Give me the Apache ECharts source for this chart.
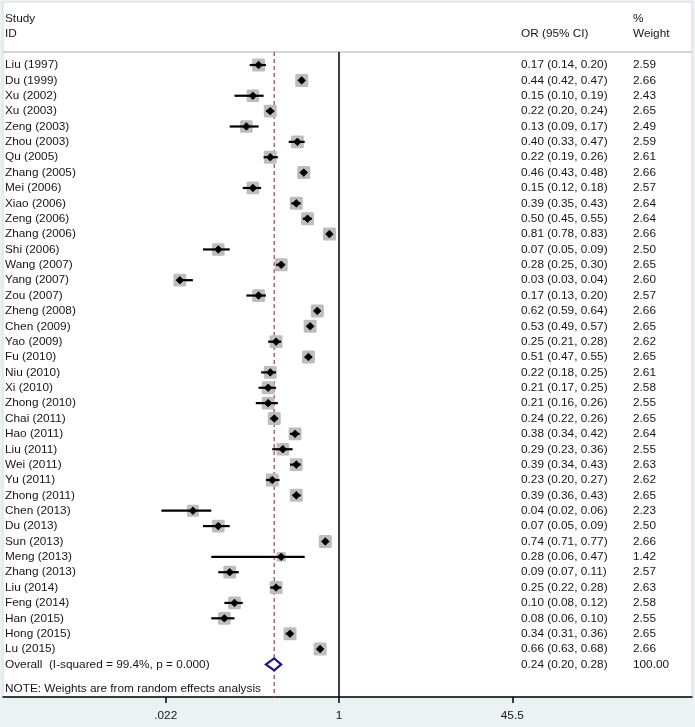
<!DOCTYPE html>
<html>
<head>
<meta charset="utf-8">
<script src="https://cdn.jsdelivr.net/npm/echarts@6/dist/echarts.min.js"></script>
<style>
html,body{margin:0;padding:0;background:#eaf2f3;}
#chart{width:695px;height:727px;}
</style>
</head>
<body>
<div id="chart"></div>
<script>
// ---------------- data ----------------
const studies = ['Liu (1997)','Du (1999)','Xu (2002)','Xu (2003)','Zeng (2003)','Zhou (2003)','Qu (2005)','Zhang (2005)','Mei (2006)','Xiao (2006)','Zeng (2006)','Zhang (2006)','Shi (2006)','Wang (2007)','Yang (2007)','Zou (2007)','Zheng (2008)','Chen (2009)','Yao (2009)','Fu (2010)','Niu (2010)','Xi (2010)','Zhong (2010)','Chai (2011)','Hao (2011)','Liu (2011)','Wei (2011)','Yu (2011)','Zhong (2011)','Chen (2013)','Du (2013)','Sun (2013)','Meng (2013)','Zhang (2013)','Liu (2014)','Feng (2014)','Han (2015)','Hong (2015)','Lu (2015)'];
const orValues = [0.17,0.44,0.15,0.22,0.13,0.40,0.22,0.46,0.15,0.39,0.50,0.81,0.07,0.28,0.03,0.17,0.62,0.53,0.25,0.51,0.22,0.21,0.21,0.24,0.38,0.29,0.39,0.23,0.39,0.04,0.07,0.74,0.28,0.09,0.25,0.10,0.08,0.34,0.66];
const ciLower = [0.14,0.42,0.10,0.20,0.09,0.33,0.19,0.43,0.12,0.35,0.45,0.78,0.05,0.25,0.03,0.13,0.59,0.49,0.21,0.47,0.18,0.17,0.16,0.22,0.34,0.23,0.34,0.20,0.36,0.02,0.05,0.71,0.06,0.07,0.22,0.08,0.06,0.31,0.63];
const ciUpper = [0.20,0.47,0.19,0.24,0.17,0.47,0.26,0.48,0.18,0.43,0.55,0.83,0.09,0.30,0.04,0.20,0.64,0.57,0.28,0.55,0.25,0.25,0.26,0.26,0.42,0.36,0.43,0.27,0.43,0.06,0.09,0.77,0.47,0.11,0.28,0.12,0.10,0.36,0.68];
const weights = [2.59,2.66,2.43,2.65,2.49,2.59,2.61,2.66,2.57,2.64,2.64,2.66,2.50,2.65,2.60,2.57,2.66,2.65,2.62,2.65,2.61,2.58,2.55,2.65,2.64,2.55,2.63,2.62,2.65,2.23,2.50,2.66,1.42,2.57,2.63,2.58,2.55,2.65,2.66];
const overallLabel = 'Overall  (I-squared = 99.4%, p = 0.000)';
const overallOR = 0.24, overallLower = 0.20, overallUpper = 0.28, overallWeight = 100.00;
const noteText = 'NOTE: Weights are from random effects analysis';
const tickValues = [0.022, 1, 45.5];
const tickLabels = ['.022', '1', '45.5'];

// ---------------- layout ----------------
const xMin = -3.215, xMax = 3.378;          // log10 range of the plot region
const yMin = -4.1, yMax = 41.12;            // row range
const headerLineRow = -0.85;
const colX = {study: 5, or: 521, weight: 633};
const FONT = '11.8px "Liberation Sans", Arial, sans-serif';
const TEXT = '#161616';
const squareBase = 13, refWeight = 2.66;

const log = v => Math.log10(v);
const n = studies.length;
const overallRow = n;
const noteRow = n + 1.6;

// text items
const texts = [];
texts.push({x: colX.study, row: -2.98, t: 'Study'});
texts.push({x: colX.study, row: -2.02, t: 'ID'});
texts.push({x: colX.or, row: -2.02, t: 'OR (95% CI)'});
texts.push({x: colX.weight, row: -2.98, t: '%'});
texts.push({x: colX.weight, row: -2.02, t: 'Weight'});
studies.forEach((s, i) => {
  texts.push({x: colX.study, row: i, t: s});
  texts.push({x: colX.or, row: i, t: orValues[i].toFixed(2) + ' (' + ciLower[i].toFixed(2) + ', ' + ciUpper[i].toFixed(2) + ')'});
  texts.push({x: colX.weight, row: i, t: weights[i].toFixed(2)});
});
texts.push({x: colX.study, row: overallRow, t: overallLabel});
texts.push({x: colX.or, row: overallRow, t: overallOR.toFixed(2) + ' (' + overallLower.toFixed(2) + ', ' + overallUpper.toFixed(2) + ')'});
texts.push({x: colX.weight, row: overallRow, t: overallWeight.toFixed(2)});
texts.push({x: colX.study, row: noteRow, t: noteText});

// reference lines: [x1,y1,x2,y2,kind]
const refLines = [
  [xMin, headerLineRow, xMax, headerLineRow, 'header'],
  [0, headerLineRow, 0, yMax, 'null'],
  [log(overallOR), headerLineRow, log(overallOR), yMax, 'overall']
];
const lineStyles = {
  header: {stroke: '#c6c9ca', lineWidth: 1.5},
  null: {stroke: '#000', lineWidth: 1.5},
  overall: {stroke: '#a3545e', lineWidth: 1.3, lineDash: [4, 3]}
};

const chart = echarts.init(document.getElementById('chart'), null, {renderer: 'canvas'});
chart.setOption({
  backgroundColor: '#eaf2f3',
  animation: false,
  grid: {left: 3, right: 3, top: 2, bottom: 30, show: true, backgroundColor: '#fff', borderColor: '#d5dcde', borderWidth: 1},
  xAxis: {
    type: 'value', min: xMin, max: xMax,
    splitLine: {show: false},
    axisLine: {show: true, onZero: false, lineStyle: {color: '#000', width: 1.5}},
    axisTick: {show: true, length: 6, lineStyle: {color: '#000', width: 1.5}, customValues: tickValues.map(log)},
    axisLabel: {
      customValues: tickValues.map(log), margin: 13, color: TEXT,
      fontFamily: '"Liberation Sans", Arial, sans-serif', fontSize: 11.8,
      formatter: v => {
        let best = 0, d = 1e9;
        tickValues.forEach((t, k) => { const dd = Math.abs(log(t) - v); if (dd < d) { d = dd; best = k; } });
        return tickLabels[best];
      }
    }
  },
  yAxis: {type: 'value', min: yMin, max: yMax, inverse: true, show: false, splitLine: {show: false}},
  series: [
    {
      type: 'custom', name: 'ref', z: 1, silent: true,
      data: refLines.map(l => [l[0], l[1], l[2], l[3]]),
      renderItem: (params, api) => {
        const a = api.coord([api.value(0), api.value(1)]);
        const b = api.coord([api.value(2), api.value(3)]);
        const kind = refLines[params.dataIndex][4];
        return {type: 'line', shape: {x1: a[0], y1: a[1], x2: b[0], y2: b[1]}, style: lineStyles[kind]};
      }
    },
    {
      type: 'custom', name: 'studies', z: 3, silent: true,
      data: studies.map((s, i) => [log(orValues[i]), i, log(ciLower[i]), log(ciUpper[i]), weights[i]]),
      renderItem: (params, api) => {
        const row = api.value(1);
        const c = api.coord([api.value(0), row]);
        const lo = api.coord([api.value(2), row]);
        const hi = api.coord([api.value(3), row]);
        const s = squareBase * Math.sqrt(api.value(4) / refWeight);
        const d = 3.8;
        return {type: 'group', children: [
          {type: 'rect', shape: {x: c[0] - s / 2, y: c[1] - s / 2, width: s, height: s, r: 1.5}, style: {fill: '#bdbdbd'}},
          {type: 'line', shape: {x1: lo[0], y1: lo[1], x2: hi[0], y2: hi[1]}, style: {stroke: '#000', lineWidth: 2.2}},
          {type: 'polygon', shape: {points: [[c[0] - d, c[1]], [c[0], c[1] - d], [c[0] + d, c[1]], [c[0], c[1] + d]]}, style: {fill: '#000', stroke: '#000', lineWidth: 0.8, lineJoin: 'round'}}
        ]};
      }
    },
    {
      type: 'custom', name: 'overall', z: 4, silent: true,
      data: [[log(overallOR), overallRow, log(overallLower), log(overallUpper)]],
      renderItem: (params, api) => {
        const row = api.value(1);
        const c = api.coord([api.value(0), row]);
        const lo = api.coord([api.value(2), row]);
        const hi = api.coord([api.value(3), row]);
        const h = 6;
        return {type: 'polygon', shape: {points: [[lo[0], lo[1]], [c[0], c[1] - h], [hi[0], hi[1]], [c[0], c[1] + h]]},
          style: {fill: '#fff', stroke: '#1b1b7c', lineWidth: 2.2}};
      }
    },
    {
      type: 'custom', name: 'text', z: 2, silent: true,
      data: texts.map(t => [0, t.row]),
      renderItem: (params, api) => {
        const item = texts[params.dataIndex];
        const y = api.coord([0, api.value(1)])[1];
        return {type: 'text', style: {text: item.t, x: item.x, y: y, font: FONT, fill: TEXT, textAlign: 'left', textVerticalAlign: 'middle'}};
      }
    }
  ]
});
</script>
</body>
</html>
